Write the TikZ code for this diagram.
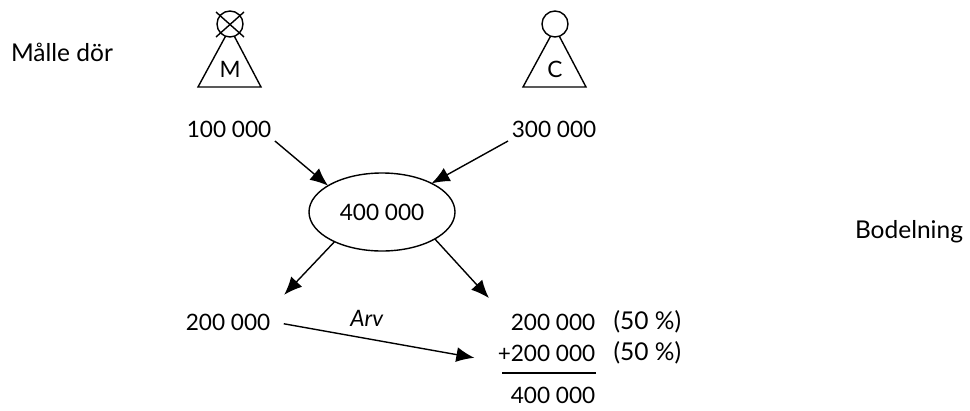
\documentclass[tikz,border=0pt]{standalone}
\usepackage{fontspec}
\setmainfont{Lato}
\usetikzlibrary{arrows.meta,shapes.geometric}
\tikzstyle{amount} = [rectangle, inner sep=3pt, text centered, font=\fontsize{22.6}{26}\selectfont]
\tikzstyle{caption} = [rectangle, inner sep=3pt, text centered, font=\fontsize{24.5}{28}\selectfont]
\tikzstyle{person} = [circle, draw, fill=white, minimum size=26pt, inner sep=0pt, outer sep=0pt]
\tikzstyle{pool} = [ellipse, draw, minimum width=146pt, minimum height=78pt, inner sep=0pt, outer sep=0pt, font=\fontsize{22.6}{26}\selectfont]
\tikzstyle{arrow} = [draw, -{Latex[length=18pt,width=15pt]}]
\tikzstyle{line} = [draw]

\begin{document}
\begin{tikzpicture}[x=1pt, y=-1pt, line width=1.4pt]
    \useasboundingbox (0,0) rectangle (970,410);

    % people
    \draw (198,87) -- (230,28) -- (261,87) -- cycle;
    \draw (523,87) -- (555,28) -- (586,87) -- cycle;
    \node[person] (headM) at (230,24) {};
    \node[person] (headC) at (555,24) {};
    \draw (headM.center) ++(-14,-12) -- ++(28,25);
    \draw (headM.center) ++(14,-12) -- ++(-28,25);
    \node[amount] (letterM) at (230,69) {M};
    \node[amount] (letterC) at (555,69) {C};

    % texts
    \node[caption] (death) at (62,52) {Målle dör};
    \node[caption] (split) at (909,232) {Bodelning};
    \node[amount] (assetsM) at (229,129) {100 000};
    \node[amount] (assetsC) at (554,129) {300 000};
    \node[pool] (total) at (382,212) {400 000};
    \node[amount] (shareM) at (228,322) {200 000};
    \node[amount, anchor=east] (shareC) at (599,322) {200 000};
    \node[amount, anchor=east] (inherit) at (599,353) {+200 000};
    \node[amount, anchor=east] (sumC) at (599,395) {400 000};
    \node[caption, anchor=west] (pctA) at (610,322) {(50 \%)};
    \node[caption, anchor=west] (pctB) at (610,353) {(50 \%)};
    \node[amount] (arv) at (367,318) {\textit{Arv}};

    % lines
    \draw [arrow] (assetsM.south east) to (total.154);
    \draw [arrow] (assetsC.south west) to (total.30);
    \draw [arrow, shorten >=21pt] (total.212) to (shareM.16);
    \draw [arrow, shorten >=27pt] (total.333) to (shareC.175);
    \draw [arrow, shorten <=10pt, shorten >=20pt] (shareM.east) to (inherit.189);
    \draw [line] (inherit.south east) ++(-3,8) -- ++(-94,0);
\end{tikzpicture}
\end{document}
